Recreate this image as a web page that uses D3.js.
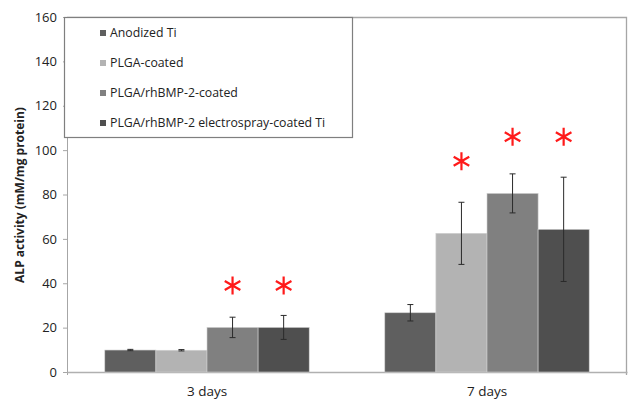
<!DOCTYPE html>
<html>
<head>
<meta charset="utf-8">
<script src="https://cdn.jsdelivr.net/npm/d3@7"></script>
<style>
  body { margin: 0; background: #fff; }
  text { font-family: "Open Sans", "Noto Sans", sans-serif; fill: #222; }
</style>
</head>
<body>
<div id="chart"></div>
<script>
// chart data
var days = ["3 days", "7 days"];
var groups = ["Anodized Ti", "PLGA-coated", "PLGA/rhBMP-2-coated", "PLGA/rhBMP-2 electrospray-coated Ti"];
var means3 = [9.9, 9.8, 20.1, 20.1];
var errs3 = [0.3, 0.3, 4.6, 5.4];
var means7 = [26.7, 62.5, 80.5, 64.3];
var errs7 = [3.7, 14, 8.8, 23.5];
// asterisk levels (null = no mark)
var stars3 = [null, null, 39, 39];
var stars7 = [null, 95, 106, 106];
var yTicks = [0, 20, 40, 60, 80, 100, 120, 140, 160];
var colors = ["#5f5f5f", "#b3b3b3", "#808080", "#4f4f4f"];

var W = 630, H = 404;
var margin = {top: 17, right: 3, bottom: 32, left: 67};
var width = W - margin.left - margin.right;
var height = H - margin.top - margin.bottom;

var svg = d3.select("#chart").append("svg")
	.attr("width", W)
	.attr("height", H);

var g = svg.append("g")
	.attr("transform", "translate(" + margin.left + "," + margin.top + ")");

var x0 = d3.scaleBand().domain(days).range([0, width]).paddingInner(0.27).paddingOuter(0.135);
var x1 = d3.scaleBand().domain(groups).range([0, x0.bandwidth()]);
var y = d3.scaleLinear().domain([0, 160]).range([height, 0]);

// build rows
var rows = [];
[[means3, errs3, stars3], [means7, errs7, stars7]].forEach(function(set, i) {
	groups.forEach(function(grp, j) {
		rows.push({day: days[i], group: grp, idx: j, v: set[0][j], e: set[1][j], star: set[2][j]});
	});
});

// frame (top, right)
g.append("path")
	.attr("d", "M0,0.5H" + (width - 0.5) + "V" + (height + 3))
	.attr("fill", "none")
	.attr("stroke", "#a6a6a6")
	.attr("stroke-width", 1.3);

// y axis
var yAxis = g.append("g")
	.attr("class", "y axis")
	.call(d3.axisLeft(y).tickValues(yTicks).tickSize(4).tickPadding(6));
yAxis.select(".domain").attr("stroke", "#a6a6a6").attr("d", "M0.5," + (height + 3) + "V0");
yAxis.selectAll(".tick line").attr("stroke", "#a6a6a6").attr("x1", -4).attr("x2", 0);
yAxis.selectAll(".tick text").style("font-size", "13px").attr("fill", "#333");

// x axis
var xAxis = g.append("g")
	.attr("transform", "translate(0," + height + ")")
	.call(d3.axisBottom(x0).tickSize(0).tickPadding(14));
xAxis.select(".domain").attr("stroke", "#b0b0b0").attr("stroke-width", 1.3);
xAxis.selectAll(".tick text").style("font-size", "13.5px").attr("fill", "#222");

// bars
g.selectAll(".bar")
	.data(rows)
	.enter().append("rect")
	.attr("class", "bar")
	.attr("x", function(d) { return x0(d.day) + x1(d.group); })
	.attr("y", function(d) { return y(d.v); })
	.attr("width", x1.bandwidth())
	.attr("height", function(d) { return height - y(d.v); })
	.attr("fill", function(d) { return colors[d.idx]; })
	.attr("stroke", "#d0d0d0")
	.attr("stroke-width", 0.6);

// error bars
var eb = g.selectAll(".err")
	.data(rows)
	.enter().append("g")
	.attr("class", "err")
	.attr("stroke", "#2a2a2a")
	.attr("stroke-width", 1);
eb.append("line")
	.attr("x1", function(d) { return x0(d.day) + x1(d.group) + x1.bandwidth() / 2; })
	.attr("x2", function(d) { return x0(d.day) + x1(d.group) + x1.bandwidth() / 2; })
	.attr("y1", function(d) { return y(d.v + d.e); })
	.attr("y2", function(d) { return y(d.v - d.e); });
[1, -1].forEach(function(s) {
	eb.append("line")
		.attr("x1", function(d) { return x0(d.day) + x1(d.group) + x1.bandwidth() / 2 - 3; })
		.attr("x2", function(d) { return x0(d.day) + x1(d.group) + x1.bandwidth() / 2 + 3; })
		.attr("y1", function(d) { return y(d.v + s * d.e); })
		.attr("y2", function(d) { return y(d.v + s * d.e); });
});

// asterisks
var star = "M0,-9V9M-7.8,-4.5L7.8,4.5M-7.8,4.5L7.8,-4.5";
g.selectAll(".star")
	.data(rows.filter(function(d) { return d.star != null; }))
	.enter().append("path")
	.attr("class", "star")
	.attr("transform", function(d) {
		return "translate(" + (x0(d.day) + x1(d.group) + x1.bandwidth() / 2) + "," + y(d.star) + ")";
	})
	.attr("d", star)
	.attr("stroke", "#ff1a1a")
	.attr("stroke-width", 2.2)
	.attr("fill", "none");

// legend box
var legend = g.append("g").attr("transform", "translate(-3,0)");
legend.append("rect")
	.attr("x", 0.5).attr("y", 0.5)
	.attr("width", 288).attr("height", 120)
	.attr("fill", "#fff")
	.attr("stroke", "#7f7f7f")
	.attr("stroke-width", 1.2);
var item = legend.selectAll(".legend")
	.data(groups)
	.enter().append("g")
	.attr("class", "legend")
	.attr("transform", function(d, i) { return "translate(36," + (16 + i * 30) + ")"; });
item.append("rect")
	.attr("x", 0).attr("y", -3)
	.attr("width", 6).attr("height", 6)
	.attr("fill", function(d, i) { return colors[i]; });
item.append("text")
	.attr("x", 10)
	.attr("dy", "0.35em")
	.style("font-size", "12.3px")
	.text(function(d) { return d; });

// y title
svg.append("text")
	.attr("transform", "translate(24," + (margin.top + 178) + ") rotate(-90)")
	.attr("text-anchor", "middle")
	.style("font-size", "12px")
	.style("font-weight", "bold")
	.text("ALP activity (mM/mg protein)");
</script>
</body>
</html>
